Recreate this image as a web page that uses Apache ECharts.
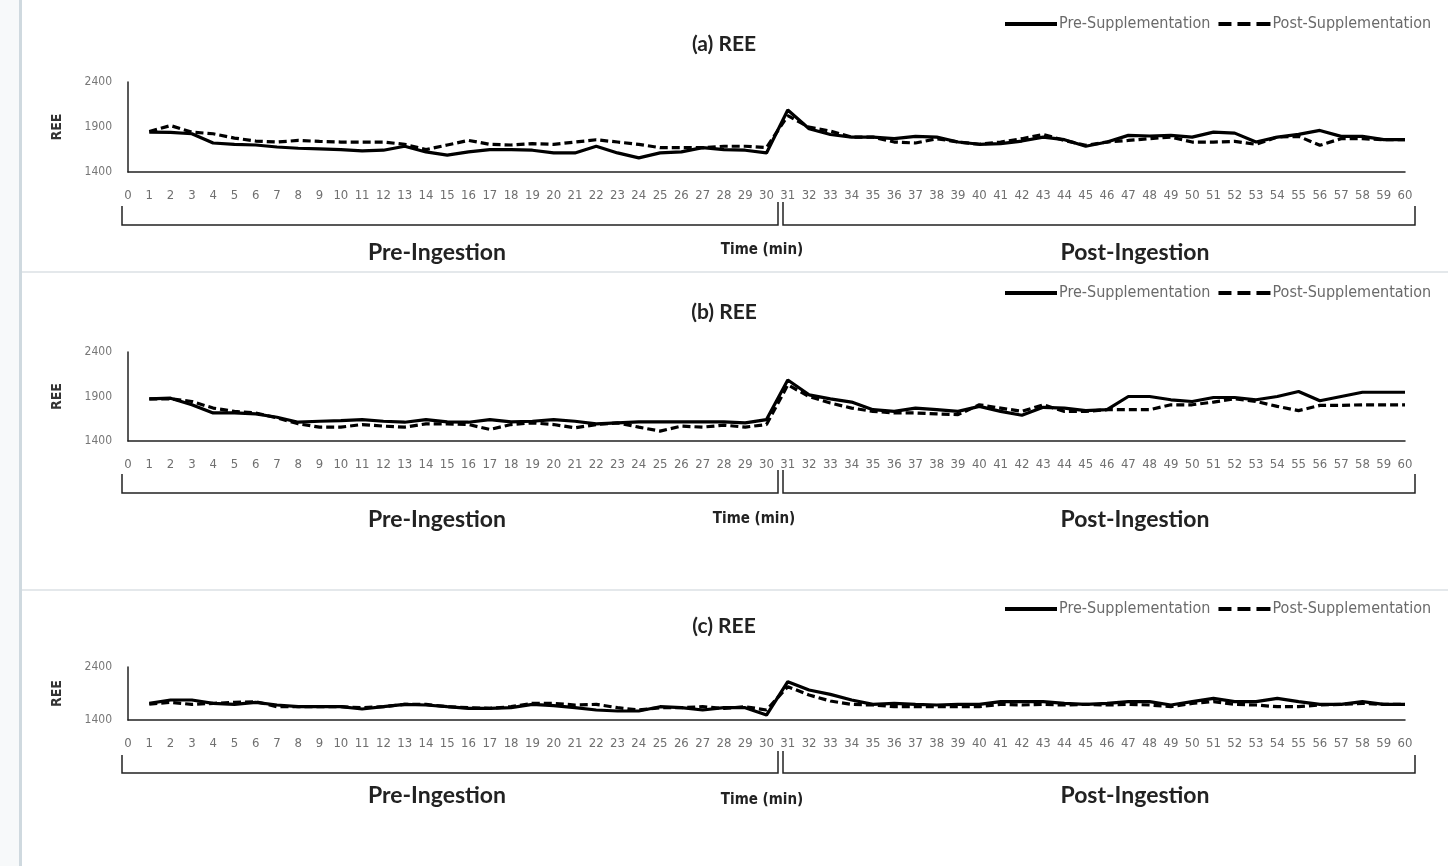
<!DOCTYPE html>
<html><head><meta charset="utf-8">
<script src="https://cdn.jsdelivr.net/npm/echarts@6/dist/echarts.min.js"></script>
<style>html,body{margin:0;padding:0;background:#fff}#c{width:1448px;height:866px}</style>
</head><body><div id="c"></div>
<script>
const categories = Array.from({length: 61}, (_, i) => String(i));
const yTicksAB = [1400, 1900, 2400];
const yTicksC = [1400, 2400];
const panelTitles = ['(a) REE', '(b) REE', '(c) REE'];
const seriesNames = ['Pre-Supplementation', 'Post-Supplementation'];

const preA = [null,1843,1840,1825,1722,1707,1700,1678,1664,1657,1649,1634,1642,1686,1623,1587,
  1623,1649,1649,1642,1612,1612,1686,1612,1557,1612,1623,1671,1649,1642,1612,
  2089,1880,1817,1788,1788,1770,1796,1788,1733,1708,1715,1744,1788,1759,1686,
  1733,1807,1800,1807,1788,1843,1832,1733,1788,1818,1862,1796,1796,1759,1759];
const postA = [null,1850,1916,1843,1825,1777,1744,1733,1751,1740,1733,1733,1733,1707,1649,1700,
  1751,1707,1700,1715,1707,1733,1758,1733,1707,1671,1671,1671,1686,1686,1671,
  2026,1898,1854,1788,1788,1733,1722,1770,1733,1708,1733,1770,1818,1751,1697,
  1733,1751,1770,1788,1733,1733,1740,1708,1788,1796,1697,1770,1770,1759,1759];

const preB = [null,1874,1881,1807,1715,1715,1704,1667,1611,1622,1630,1641,1622,1611,1641,1615,
  1611,1641,1615,1622,1641,1622,1593,1604,1615,1615,1615,1615,1615,1604,1641,
  2085,1919,1874,1837,1752,1733,1770,1752,1733,1789,1733,1689,1778,1770,1741,
  1752,1900,1900,1863,1844,1889,1889,1863,1900,1956,1852,1900,1948,1948,1948];
const postB = [null,1874,1874,1844,1770,1733,1715,1659,1593,1556,1556,1585,1567,1556,1593,1593,
  1585,1530,1585,1604,1585,1548,1585,1604,1556,1511,1567,1556,1578,1556,1585,
  2030,1900,1826,1770,1733,1715,1715,1704,1696,1807,1770,1733,1807,1733,1733,
  1752,1752,1752,1807,1807,1837,1874,1844,1789,1741,1800,1800,1807,1807,1807];

const preC = [null,1714,1777,1777,1714,1695,1733,1683,1651,1651,1651,1608,1651,1695,1683,1651,
  1620,1620,1632,1695,1670,1632,1589,1570,1570,1651,1632,1589,1632,1632,1494,
  2123,1966,1884,1777,1695,1714,1695,1683,1695,1695,1746,1746,1746,1714,1695,
  1714,1746,1746,1683,1746,1809,1746,1746,1809,1746,1695,1695,1746,1695,1695];
const postC = [null,1700,1733,1695,1714,1733,1746,1651,1651,1651,1651,1632,1651,1695,1695,1651,
  1632,1620,1651,1714,1714,1683,1695,1632,1589,1632,1632,1651,1620,1651,1589,
  2029,1872,1758,1695,1683,1651,1651,1651,1651,1651,1695,1683,1695,1683,1695,
  1683,1695,1683,1651,1714,1746,1695,1683,1651,1651,1683,1695,1714,1695,1695];

const panelData = [[preA, postA], [preB, postB], [preC, postC]];

const tickFont = '"Liberation Sans Narrow","DejaVu Sans Condensed","Roboto Condensed",sans-serif';
const headFont = 'Lato,"Open Sans",sans-serif';

const panels = [
  {gridTop: 82, gridH: 90, yTicks: yTicksAB, legendY: 20, titleY: 42, brTop: 206, brBot: 225, labY: 253, timeX: 762, timeY: 250},
  {gridTop: 352, gridH: 89, yTicks: yTicksAB, legendY: 289, titleY: 310, brTop: 474, brBot: 493, labY: 520, timeX: 754, timeY: 519},
  {gridTop: 667, gridH: 53, yTicks: yTicksC, legendY: 605, titleY: 624, brTop: 755, brBot: 773, labY: 796, timeX: 762, timeY: 800}
];

const iconSolid = 'path://M0,0H52V4H0Z';
const iconDash = 'path://M0,0H13V4H0Z M19,0H32V4H19Z M38,0H52V4H38Z';

const chart = echarts.init(document.getElementById('c'), null, {renderer: 'canvas'});

const grid = [], xAxis = [], yAxis = [], series = [], legend = [], title = [], graphic = [];

graphic.push({type: 'rect', shape: {x: 0, y: 0, width: 20, height: 866}, style: {fill: '#f7f9fa'}, silent: true, z: -10});
graphic.push({type: 'line', shape: {x1: 20.5, y1: 0, x2: 20.5, y2: 866}, style: {stroke: '#cfd9df', lineWidth: 3}, silent: true});
graphic.push({type: 'line', shape: {x1: 22, y1: 272, x2: 1448, y2: 272}, style: {stroke: '#e4e8eb', lineWidth: 2}, silent: true});
graphic.push({type: 'line', shape: {x1: 22, y1: 590, x2: 1448, y2: 590}, style: {stroke: '#e4e8eb', lineWidth: 2}, silent: true});

panels.forEach((p, i) => {
  const t = p.yTicks;
  grid.push({left: 128, right: 43, top: p.gridTop, height: p.gridH, containLabel: false});
  xAxis.push({
    type: 'category', gridIndex: i, data: categories, boundaryGap: false,
    axisLine: {lineStyle: {color: '#222', width: 1.5}},
    axisTick: {show: false},
    axisLabel: {interval: 0, color: '#6f6f6f', fontFamily: tickFont, fontSize: 13, margin: 17}
  });
  yAxis.push({
    type: 'value', gridIndex: i, min: t[0], max: t[t.length - 1], interval: t[1] - t[0],
    name: 'REE', nameLocation: 'middle', nameRotate: 90, nameGap: 64,
    nameTextStyle: {fontFamily: tickFont, fontWeight: 'bold', fontSize: 14, color: '#333'},
    axisLine: {show: true, lineStyle: {color: '#222', width: 1.5}},
    axisTick: {show: false},
    splitLine: {show: false},
    axisLabel: {color: '#777', fontFamily: tickFont, fontSize: 12, margin: 16, formatter: v => String(v)}
  });
  panelData[i].forEach((d, k) => {
    series.push({
      type: 'line', name: seriesNames[k], xAxisIndex: i, yAxisIndex: i, data: d,
      symbol: 'none', smooth: false,
      lineStyle: {color: '#000', width: 3.2, type: k === 0 ? 'solid' : [8, 4]},
      itemStyle: {color: '#000'}, z: k === 0 ? 3 : 2
    });
  });
  legend.push({
    data: [{name: seriesNames[0], icon: iconSolid}, {name: seriesNames[1], icon: iconDash}],
    left: 1000, top: p.legendY - 9, itemWidth: 52, itemHeight: 4, itemGap: 8,
    textStyle: {color: '#6a6a6a', fontFamily: tickFont, fontSize: 16, padding: [0, 0, 0, -3]},
    selectedMode: false
  });
  title.push({
    text: panelTitles[i], left: 'center', top: p.titleY - 13,
    textStyle: {fontFamily: headFont, fontWeight: 'bold', fontSize: 21, color: '#222'}
  });
  graphic.push({type: 'polyline', shape: {points: [[122, p.brTop], [122, p.brBot], [778, p.brBot], [778, p.brTop - 4]]},
    style: {stroke: '#222', lineWidth: 1.5, fill: null}, silent: true});
  graphic.push({type: 'polyline', shape: {points: [[783, p.brTop - 4], [783, p.brBot], [1415, p.brBot], [1415, p.brTop]]},
    style: {stroke: '#222', lineWidth: 1.5, fill: null}, silent: true});
  graphic.push({type: 'text', x: 437, y: p.labY, style: {text: 'Pre-Ingestion', fill: '#222', font: 'bold 23px ' + headFont, textAlign: 'center', textVerticalAlign: 'middle'}, silent: true});
  graphic.push({type: 'text', x: 1135, y: p.labY, style: {text: 'Post-Ingestion', fill: '#222', font: 'bold 23px ' + headFont, textAlign: 'center', textVerticalAlign: 'middle'}, silent: true});
  graphic.push({type: 'text', x: p.timeX, y: p.timeY, style: {text: 'Time (min)', fill: '#222', font: 'bold 15px ' + tickFont, textAlign: 'center', textVerticalAlign: 'middle'}, silent: true});
});

chart.setOption({
  backgroundColor: '#fff',
  animation: false,
  title, legend, grid, xAxis, yAxis, series, graphic
});
</script>
</body></html>
